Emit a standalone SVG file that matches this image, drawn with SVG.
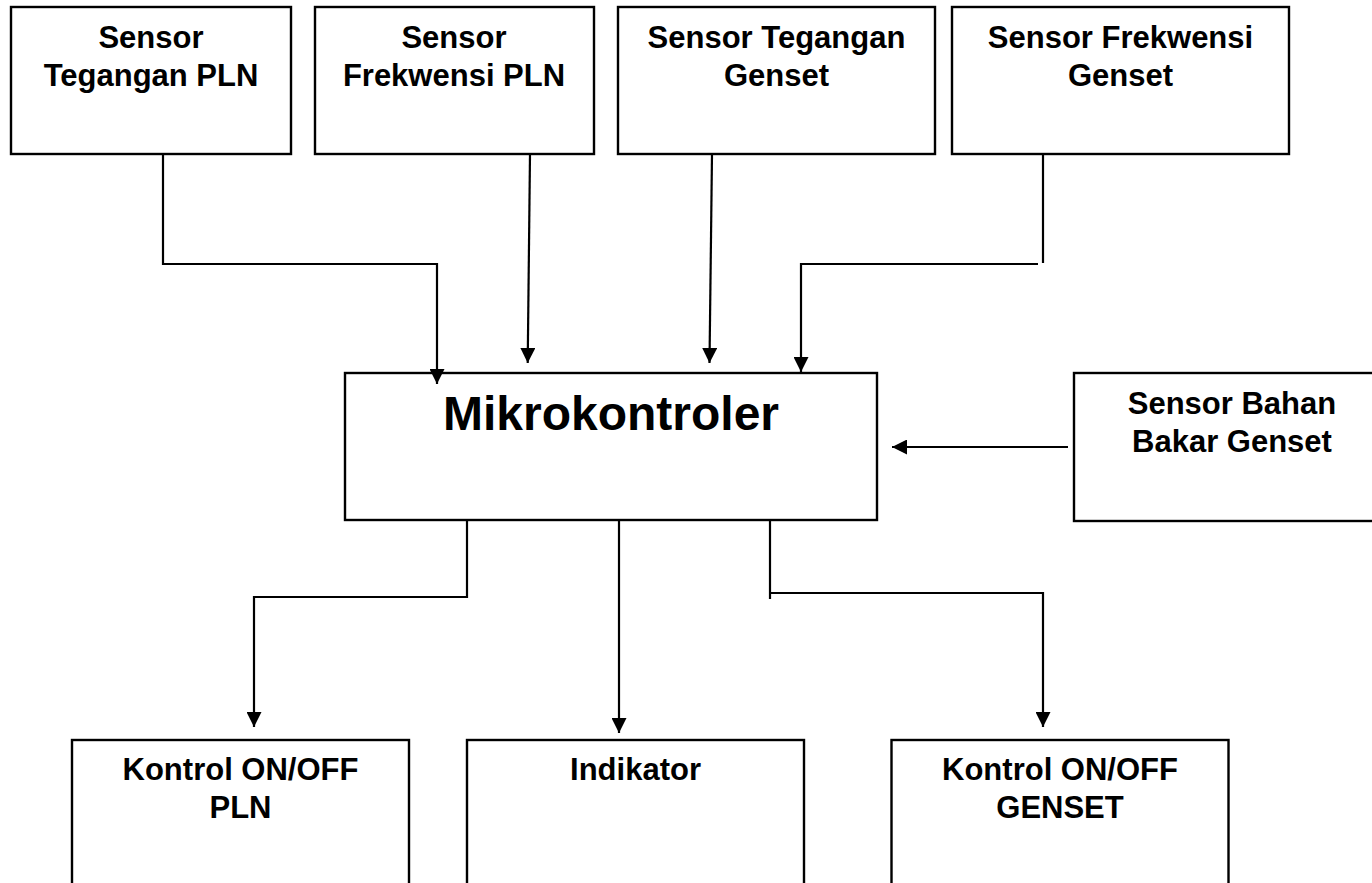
<svg xmlns="http://www.w3.org/2000/svg" width="1372" height="883" viewBox="0 0 1372 883">
<defs>
<style>
.box{fill:#fff;stroke:#000;stroke-width:2.4}
.t{font-family:"Liberation Sans",Arial,sans-serif;font-weight:bold;font-size:31px;fill:#000;text-anchor:middle}
.big{font-size:48px}
.c{fill:none;stroke:#000;stroke-width:2.2}
</style>
<marker id="ah" markerUnits="userSpaceOnUse" markerWidth="16" markerHeight="15" refX="15" refY="7.5" orient="auto">
<path d="M0,0 L15,7.5 L0,15 z" fill="#000"/>
</marker>
</defs>
<rect width="1372" height="883" fill="#fff"/>
<g id="n-tegangan-pln">
<rect class="box" x="11" y="7" width="280" height="147"/>
<text class="t" x="151" y="48">Sensor</text>
<text class="t" x="151" y="86">Tegangan PLN</text>
</g>
<g id="n-frekwensi-pln">
<rect class="box" x="315" y="7" width="279" height="147"/>
<text class="t" x="454" y="48">Sensor</text>
<text class="t" x="454" y="86">Frekwensi PLN</text>
</g>
<g id="n-tegangan-genset">
<rect class="box" x="618" y="7" width="317" height="147"/>
<text class="t" x="776.5" y="48">Sensor Tegangan</text>
<text class="t" x="776.5" y="86">Genset</text>
</g>
<g id="n-frekwensi-genset">
<rect class="box" x="952" y="7" width="337" height="147"/>
<text class="t" x="1120.5" y="48">Sensor Frekwensi</text>
<text class="t" x="1120.5" y="86">Genset</text>
</g>
<g id="n-mikrokontroler">
<rect class="box" x="345" y="373" width="532" height="147"/>
<text class="t big" x="611" y="430">Mikrokontroler</text>
</g>
<g id="n-bahan-bakar">
<rect class="box" x="1074" y="373" width="320" height="148"/>
<text class="t" x="1232" y="414">Sensor Bahan</text>
<text class="t" x="1232" y="452">Bakar Genset</text>
</g>
<g id="n-kontrol-pln">
<rect class="box" x="72" y="740" width="337" height="170"/>
<text class="t" x="240.5" y="780">Kontrol ON/OFF</text>
<text class="t" x="240.5" y="818">PLN</text>
</g>
<g id="n-indikator">
<rect class="box" x="467" y="740" width="337" height="170"/>
<text class="t" x="635.5" y="780">Indikator</text>
</g>
<g id="n-kontrol-genset">
<rect class="box" x="891.5" y="740" width="337" height="170"/>
<text class="t" x="1060" y="780">Kontrol ON/OFF</text>
<text class="t" x="1060" y="818">GENSET</text>
</g>
<g id="connectors">
<path class="c" d="M163,154 V264 H437 V384" marker-end="url(#ah)"/>
<path class="c" d="M530,154 L527.7,363" marker-end="url(#ah)"/>
<path class="c" d="M712,154 L709.5,363" marker-end="url(#ah)"/>
<path class="c" d="M1043,154 V263"/>
<path class="c" d="M1038,264 H801 V372" marker-end="url(#ah)"/>
<path class="c" d="M1068,447 H892" marker-end="url(#ah)"/>
<path class="c" d="M467,521 V598"/>
<path class="c" d="M467,597 H254 V727" marker-end="url(#ah)"/>
<path class="c" d="M619,521 V733" marker-end="url(#ah)"/>
<path class="c" d="M770,521 V599"/>
<path class="c" d="M770,593 H1043 V727" marker-end="url(#ah)"/>
</g>
</svg>
